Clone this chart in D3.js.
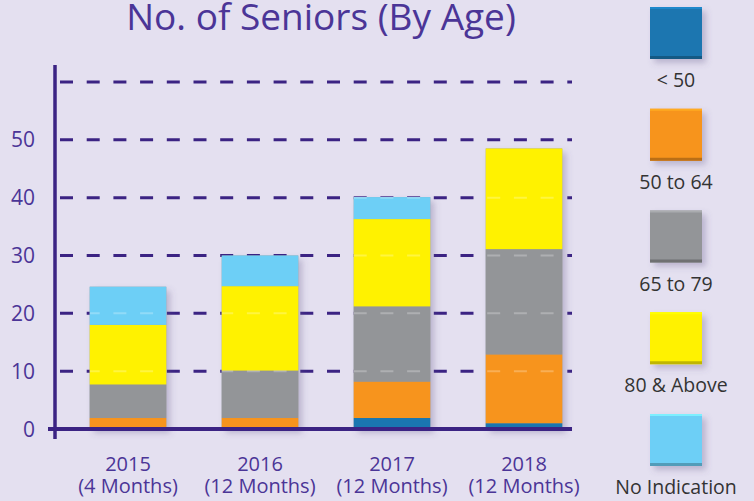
<!DOCTYPE html>
<html>
<head>
<meta charset="utf-8">
<script src="https://cdn.jsdelivr.net/npm/d3@7"></script>
<style>
  body { margin: 0; background: #e4e0f0; }
  svg { display: block; }
</style>
</head>
<body>
<div id="chart"></div>
<script>
// data
const years = ["2015", "2016", "2017", "2018"];
const periods = ["(4 Months)", "(12 Months)", "(12 Months)", "(12 Months)"];
const groups = ["< 50", "50 to 64", "65 to 79", "80 & Above", "No Indication"];
const colors = ["#1a76b0", "#f7941d", "#939598", "#fff200", "#6dcff6"];
const under50 = [0, 0, 1.9, 1.0];
const age50to64 = [1.9, 1.9, 6.3, 11.9];
const age65to79 = [5.8, 8.2, 13.0, 18.2];
const age80up = [10.3, 14.6, 15.1, 17.4];
const noIndication = [6.6, 5.3, 3.8, 0];
const yTicks = [0, 10, 20, 30, 40, 50, 60];
const yTickLabels = ["0", "10", "20", "30", "40", "50", ""];

class SeniorsChart {
    constructor() {
        this.width = 754;
        this.height = 501;
        this.purple = "#3b2383";
        this.textPurple = "#4b3597";
        this.font = "'Open Sans', 'Noto Sans', sans-serif";
    }

    drawPlot() {
        let svg = d3.select('#chart')
            .append('svg')
            .attr('width', this.width)
            .attr('height', this.height);

        svg.append('rect').attr('width', this.width).attr('height', this.height).attr('fill', '#e4e0f0');

        let defs = svg.append('defs');
        let f = defs.append('filter').attr('id', 'shadow')
            .attr('x', '-20%').attr('y', '-20%').attr('width', '150%').attr('height', '150%');
        f.append('feDropShadow').attr('dx', 4).attr('dy', 4).attr('stdDeviation', 3)
            .attr('flood-color', '#5a4d80').attr('flood-opacity', 0.3);

        let x = d3.scaleBand().domain(years).range([62, 590]).paddingInner(0.42).paddingOuter(0.21);
        let y = d3.scaleLinear().domain([0, 60]).range([429, 82]);

        // title
        svg.append('text')
            .attr('x', 321).attr('y', 30)
            .attr('text-anchor', 'middle')
            .attr('font-family', this.font)
            .attr('font-size', 37)
            .attr('fill', this.textPurple)
            .text('No. of Seniors (By Age)');

        // dashed grid
        let grid = svg.append('g');
        grid.selectAll('line').data(yTicks.filter(d => d > 0)).join('line')
            .attr('x1', 57).attr('x2', 572)
            .attr('y1', d => y(d)).attr('y2', d => y(d))
            .attr('stroke', this.purple).attr('stroke-width', 3)
            .attr('stroke-dasharray', '13,13.7').attr('stroke-dashoffset', -3);

        // stacked bars
        let rows = years.map((yr, i) => ({
            year: yr,
            "< 50": under50[i], "50 to 64": age50to64[i], "65 to 79": age65to79[i],
            "80 & Above": age80up[i], "No Indication": noIndication[i]
        }));
        let series = d3.stack().keys(groups)(rows);
        let totals = rows.map(r => d3.sum(groups, g => r[g]));

        // shadow block behind each stack
        svg.append('g').selectAll('rect').data(years).join('rect')
            .attr('x', d => x(d)).attr('width', x.bandwidth())
            .attr('y', (d, i) => y(totals[i])).attr('height', (d, i) => y(0) - y(totals[i]))
            .attr('fill', '#999').attr('filter', 'url(#shadow)');

        let bars = svg.append('g');
        series.forEach((s, k) => {
            bars.append('g').attr('fill', colors[k])
                .selectAll('rect').data(s.filter(d => d[1] - d[0] > 0)).join('rect')
                .attr('x', d => x(d.data.year))
                .attr('width', x.bandwidth())
                .attr('y', d => y(d[1]))
                .attr('height', d => y(d[0]) - y(d[1]));
        });

        // faint dash marks showing through the bars
        years.forEach((yr, i) => {
            let x0 = Math.max(57, x(yr));
            svg.append('g').selectAll('line').data(yTicks.filter(d => d > 0 && d < totals[i])).join('line')
                .attr('x1', x0).attr('x2', x(yr) + x.bandwidth())
                .attr('y1', d => y(d)).attr('y2', d => y(d))
                .attr('stroke', '#ffffff').attr('stroke-opacity', 0.25).attr('stroke-width', 2)
                .attr('stroke-dasharray', '13,13.7')
                .attr('stroke-dashoffset', -3 + (x0 - 57));
        });

        // axes lines
        svg.append('line').attr('x1', 55).attr('x2', 55).attr('y1', 65).attr('y2', 439)
            .attr('stroke', this.purple).attr('stroke-width', 3.5);
        svg.append('line').attr('x1', 48).attr('x2', 572).attr('y1', y(0)).attr('y2', y(0))
            .attr('stroke', this.purple).attr('stroke-width', 4);

        // y tick labels
        svg.append('g').selectAll('text').data(yTicks).join('text')
            .attr('x', 35).attr('y', d => y(d))
            .attr('dy', '0.36em')
            .attr('text-anchor', 'end')
            .attr('font-family', this.font).attr('font-size', 21)
            .attr('fill', this.textPurple)
            .text((d, i) => yTickLabels[i]);

        // x labels, two lines each
        let xg = svg.append('g')
            .attr('text-anchor', 'middle')
            .attr('font-family', this.font).attr('font-size', 20)
            .attr('fill', this.textPurple);
        xg.selectAll('text.yr').data(years).join('text').attr('class', 'yr')
            .attr('x', d => x(d) + x.bandwidth() / 2).attr('y', 471).text(d => d);
        xg.selectAll('text.pd').data(years).join('text').attr('class', 'pd')
            .attr('x', d => x(d) + x.bandwidth() / 2).attr('y', 493).text((d, i) => periods[i]);

        // legend
        let ly = d3.scalePoint().domain(groups).range([7, 414]);
        let lg = svg.append('g').selectAll('g').data(groups).join('g')
            .attr('transform', d => `translate(650,${ly(d)})`);
        lg.append('rect').attr('width', 52).attr('height', 52)
            .attr('fill', (d, i) => colors[i]).attr('filter', 'url(#shadow)');
        lg.append('rect').attr('width', 52).attr('height', 2)
            .attr('fill', (d, i) => d3.color(colors[i]).brighter(0.4));
        lg.append('rect').attr('y', 49).attr('width', 52).attr('height', 3)
            .attr('fill', (d, i) => d3.color(colors[i]).darker(0.8));
        lg.append('text').attr('x', 26).attr('y', 80)
            .attr('text-anchor', 'middle')
            .attr('font-family', this.font).attr('font-size', 19.5)
            .attr('fill', '#333333')
            .text(d => d);
    }
}

let chart = new SeniorsChart();
chart.drawPlot();
</script>
</body>
</html>
